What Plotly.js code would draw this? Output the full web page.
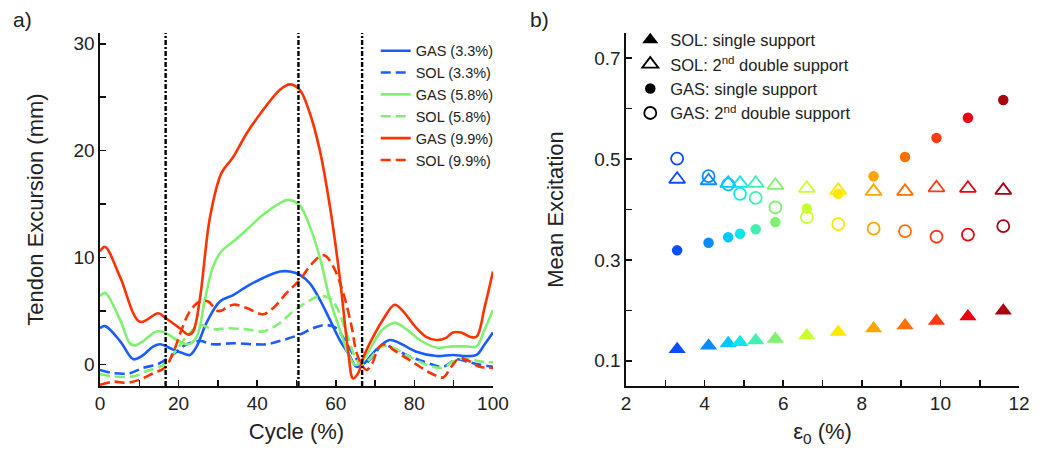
<!DOCTYPE html>
<html>
<head>
<meta charset="utf-8">
<script src="https://cdn.plot.ly/plotly-3.0.1.min.js"></script>
<style>html,body{margin:0;padding:0;background:#fff;}#chart{width:1039px;height:450px;}</style>
</head>
<body>
<div id="chart"></div>
<script>
// ---- Panel a) data ----
const gas33_x = [0,1.3,5.1,8.5,10.6,13.6,15.3,18.6,20.8,22.9,24.6,27.1,30.5,33.9,37.3,41.5,45.8,48.3,50.8,53.4,55.9,58.5,61,63.1,65.3,66.9,70.3,73.7,76.3,80.5,85.6,89.8,93.2,95.8,97.9,100];
const gas33_y = [3.4,3.6,2.2,0.5,0.8,1.7,1.9,1.4,1.1,0.9,1.7,3.9,5.9,6.5,7.3,8.1,8.7,8.7,8.4,7.6,6.1,4.2,2.3,1.1,-0.2,0,1.4,2.3,2.0,1.2,0.8,0.9,0.8,0.9,1.9,3.0];
const sol33_x = [0,3.4,7.6,11,14.4,16.9,19.5,22,25.4,28.8,33.9,39,42.4,46.6,50.8,54.2,57.6,60.2,62.7,65.3,66.9,69.5,72,74.2,78,83,87.3,90.7,93.2,96.6,100];
const sol33_y = [-0.5,-0.8,-0.8,-0.3,0,0.5,1.2,1.9,2.2,1.9,2.0,1.9,1.9,2.3,2.8,3.4,3.7,3.4,2.0,0.5,0,0.8,1.9,1.6,0.9,0.2,-0.2,0.5,0.3,0,-0.2];
const gas58_x = [0,1.3,5.1,7.6,8.9,11,14.4,16.5,19.5,22.5,24.6,26.7,28.8,30.9,33.9,37.3,41.5,45.8,47.9,50.8,53.4,55.9,58.5,61,63.1,64.8,66.5,68.6,72,75,78,81.4,85.6,89.8,93.2,95.8,97.9,100];
const gas58_y = [6.4,6.7,4.2,2.0,1.8,2.2,3.1,3.0,2.3,1.9,2.6,6.1,9.2,10.6,11.5,12.6,14.0,15.1,15.4,14.9,12.9,10.1,6.1,3.3,1.1,0,0.2,1.4,3.3,3.9,3.3,2.3,1.6,1.7,1.7,1.7,3.3,5.1];
const sol58_x = [0,3.4,8.5,11.9,15.3,16.9,19.5,22,25.4,28.8,32.2,37.3,41.5,45.8,49.2,52.5,55.9,58.5,60.2,62.7,64.8,66.5,68.6,71.2,73.7,78,83,87.3,89.8,93.2,96.6,100];
const sol58_y = [-0.9,-1.1,-1.1,-0.6,-0.2,0.2,1.4,2.6,3.7,3.3,3.4,3.3,3.1,3.9,5.0,5.8,6.4,6.2,5.4,3.0,0.8,0,0.5,1.6,1.7,0.9,0,-0.3,0.3,0.6,0.3,0.2];
const gas99_x = [0,1.3,5.1,10.2,14.8,16.5,20.3,22.5,23.7,25.4,28,30.9,33.9,37.3,41.5,45.8,48.3,50.8,53.4,55.9,58.5,61,63.1,64.4,65.7,66.9,69.5,72,75,77.1,80.1,83,85.6,88.1,89.8,91.9,94.1,95.8,97.9,100];
const gas99_y = [10.6,11.0,8.2,4.0,4.8,4.4,3.4,2.8,3.1,6.1,13.8,17.9,19.4,21.6,23.8,25.7,26.2,25.7,23.5,20.1,14.8,8.2,1.4,-1.3,-0.8,0.6,2.6,4.2,5.6,5.0,3.6,2.6,2.3,2.5,3.0,3.0,2.6,2.6,5.4,8.7];
const sol99_x = [0,3.4,6.8,10.2,13.6,16.5,18.6,20.8,22.9,25.4,27.5,30.1,33.9,37.3,41.5,44.1,47.5,50.8,53.4,55.9,57.2,59.3,61.9,64,65.3,66.9,67.8,69.1,71.2,72.9,74.6,78,81.4,84.7,87.3,89.4,91.5,94.1,96.6,100];
const sol99_y = [-1.9,-1.6,-1.7,-1.4,-0.8,-0.3,1.1,3.3,5.0,5.9,5.9,5.0,5.6,5.3,4.7,5.3,6.7,7.9,9.2,10.1,10.2,9.2,6.7,3.6,1.1,-0.2,-0.5,0,1.7,1.9,1.4,0.6,-0.2,-0.9,-1.2,-0.2,0.6,0.3,-0.2,-0.3];
const phaseLines = [16.7, 50.5, 66.7];

// ---- Panel b) data ----
const eps0 = [3.3,4.1,4.6,4.9,5.3,5.8,6.6,7.4,8.3,9.1,9.9,10.7,11.6];
const gasSingle = [0.319,0.334,0.345,0.352,0.361,0.375,0.402,0.431,0.466,0.504,0.542,0.582,0.617];
const gasDouble = [0.501,0.466,0.450,0.431,0.423,0.404,0.385,0.371,0.362,0.357,0.346,0.350,0.367];
const solSingle = [0.123,0.130,0.135,0.137,0.140,0.143,0.150,0.157,0.164,0.170,0.179,0.188,0.199];
const solDouble = [0.460,0.457,0.452,0.452,0.452,0.448,0.442,0.438,0.436,0.436,0.443,0.442,0.438];
const pointColors = ['#0a4cff','#0a8cff','#00c8ff','#10e6ea','#40f0b0','#80f070','#c8ff30','#ffe800','#ffa500','#ff7000','#ff3a10','#ee0010','#a80010'];

const BLUE = '#1a5cff', GREEN = '#80f070', RED = '#ff3300';
const FONT = 'Liberation Sans, Arial, sans-serif';

function line(x, y, name, color, dashed) {
  return {x: x, y: y, name: name, type: 'scatter', mode: 'lines',
    line: {color: color, width: 2.6, shape: 'spline', smoothing: 1, dash: dashed ? '10px,5px' : 'solid'},
    xaxis: 'x', yaxis: 'y', legend: 'legend', hoverinfo: 'skip'};
}
const traces = [
  line(gas33_x, gas33_y, 'GAS (3.3%)', BLUE, false),
  line(sol33_x, sol33_y, 'SOL (3.3%)', BLUE, true),
  line(gas58_x, gas58_y, 'GAS (5.8%)', GREEN, false),
  line(sol58_x, sol58_y, 'SOL (5.8%)', GREEN, true),
  line(gas99_x, gas99_y, 'GAS (9.9%)', RED, false),
  line(sol99_x, sol99_y, 'SOL (9.9%)', RED, true)
];

function pts(y, symbol, size, open) {
  const m = {symbol: symbol, size: size, color: pointColors};
  m.line = open ? {color: pointColors, width: 1.8} : {width: 0};
  return {x: eps0, y: y, type: 'scatter', mode: 'markers', marker: m,
    xaxis: 'x2', yaxis: 'y2', showlegend: false, hoverinfo: 'skip'};
}
traces.push(pts(solDouble, 'triangle-up-open', 14, true));
traces.push(pts(gasDouble, 'circle-open', 12, true));
traces.push(pts(gasSingle, 'circle', 10.5, false));
traces.push(pts(solSingle, 'triangle-up', 15, false));

function legItem(name, symbol, size, open) {
  const m = {symbol: symbol, size: size, color: '#000', line: {color: '#000', width: open ? 1.8 : 0}};
  return {x: [null], y: [null], type: 'scatter', mode: 'markers', name: name, marker: m,
    xaxis: 'x2', yaxis: 'y2', legend: 'legend2', showlegend: true, hoverinfo: 'skip'};
}
traces.push(legItem('SOL: single support', 'triangle-up', 14, false));
traces.push(legItem('SOL: 2<sup>nd</sup> double support', 'triangle-up-open', 14, true));
traces.push(legItem('GAS: single support', 'circle', 10.5, false));
traces.push(legItem('GAS: 2<sup>nd</sup> double support', 'circle-open', 12, true));

const axisBase = {showgrid: false, zeroline: false, showline: true, linecolor: '#111', linewidth: 1.6,
  ticks: 'inside', ticklen: 6, tickwidth: 1.6, tickcolor: '#111', mirror: false,
  tickfont: {family: FONT, size: 19, color: '#222'}};

const shapes = phaseLines.map(v => ({type: 'line', xref: 'x', yref: 'y domain', x0: v, x1: v, y0: 0, y1: 1,
  line: {color: '#000', width: 2.4, dash: '5px,2px,2px,2px'}}));

const TITLEFONT = {family: FONT, size: 22, color: '#222'};
const layout = {
  width: 1039, height: 450,
  margin: {l: 100, r: 20, t: 33, b: 64},
  paper_bgcolor: '#fff', plot_bgcolor: '#fff',
  font: {family: FONT, color: '#222'},
  xaxis: Object.assign({}, axisBase, {domain: [0, 0.4276], range: [0, 100], anchor: 'y',
    tickvals: [0,10,20,30,40,50,60,70,80,90,100], ticktext: ['0','','20','','40','','60','','80','','100'],
    title: {text: 'Cycle (%)', font: TITLEFONT, standoff: 10}}),
  yaxis: Object.assign({}, axisBase, {domain: [0, 1], range: [-2, 31], anchor: 'x',
    tickvals: [0,5,10,15,20,25,30], ticktext: ['0','','10','','20','','30'],
    title: {text: 'Tendon Excursion (mm)', font: TITLEFONT, standoff: 24}}),
  xaxis2: Object.assign({}, axisBase, {domain: [0.5724, 1], range: [2, 12], anchor: 'y2',
    tickvals: [2,3,4,5,6,7,8,9,10,11,12], ticktext: ['2','','4','','6','','8','','10','','12'],
    title: {text: 'ε<sub>0</sub> (%)', font: TITLEFONT, standoff: 10}}),
  yaxis2: Object.assign({}, axisBase, {domain: [0, 1], range: [0.05, 0.75], anchor: 'x2',
    tickvals: [0.1,0.2,0.3,0.4,0.5,0.6,0.7], ticktext: ['0.1','','0.3','','0.5','','0.7'],
    title: {text: 'Mean Excitation', font: TITLEFONT, standoff: 24}}),
  legend: {x: 0.3, y: 0.995, xanchor: 'left', yanchor: 'top', bgcolor: 'rgba(0,0,0,0)',
    font: {family: FONT, size: 14.5, color: '#222'}, tracegroupgap: 0, itemwidth: 30},
  legend2: {x: 0.577, y: 1.03, xanchor: 'left', yanchor: 'top', bgcolor: 'rgba(0,0,0,0)',
    font: {family: FONT, size: 16.5, color: '#222'}, tracegroupgap: 0, itemwidth: 30},
  shapes: shapes,
  annotations: [
    {text: 'a)', xref: 'paper', yref: 'paper', x: -0.097, y: 1.07, xanchor: 'left', yanchor: 'bottom', showarrow: false,
      font: {family: FONT, size: 21, color: '#222'}, yshift: -25},
    {text: 'b)', xref: 'paper', yref: 'paper', x: 0.466, y: 1.07, xanchor: 'left', yanchor: 'bottom', showarrow: false,
      font: {family: FONT, size: 21, color: '#222'}, yshift: -25}
  ]
};

Plotly.newPlot('chart', traces, layout, {staticPlot: true, displayModeBar: false});
</script>
</body>
</html>
